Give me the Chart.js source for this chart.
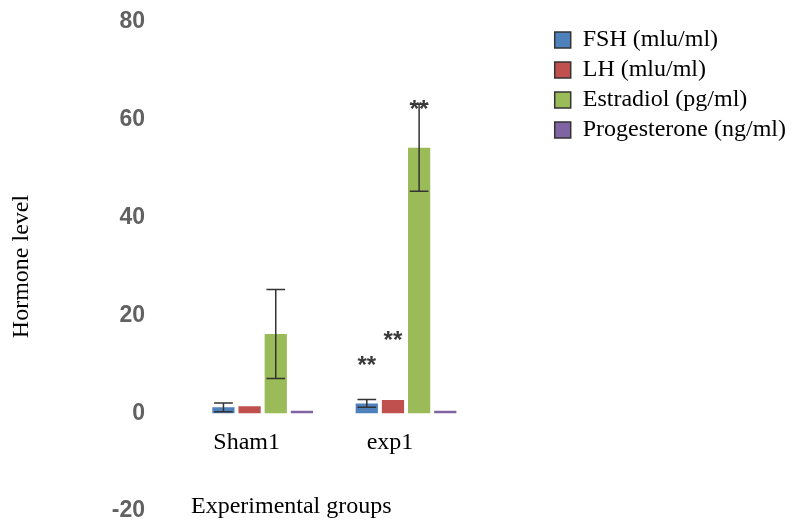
<!DOCTYPE html>
<html><head><meta charset="utf-8">
<script src="https://cdn.jsdelivr.net/npm/chart.js@4.4.0/dist/chart.umd.min.js"></script>
<style>html,body{margin:0;padding:0;background:#fff}#wrap{width:796px;height:523px}</style>
</head><body><div id="wrap"><canvas id="c" width="796" height="523"></canvas></div>
<script>
const groups = ['Sham1', 'exp1'];
const seriesNames = ['FSH (mlu/ml)', 'LH (mlu/ml)', 'Estradiol (pg/ml)', 'Progesterone (ng/ml)'];
const fsh = [1.2, 2.0];
const lh = [1.4, 2.7];
const estradiol = [16.2, 54.3];
const progesterone = [0.5, 0.5];
const fshErr = [0.9, 0.8];
const lhErr = [0, 0];
const estradiolErr = [9.1, 8.9];
const progesteroneErr = [0, 0];
const yMin = -20, yMax = 80, yStep = 20;
const starSeries = [0, 1, 2];
const starGroup = [1, 1, 1];
const starValue = [10.6, 15.7, 63];
const starText = ['**', '**', '**'];
const colors = ['#4f81bd', '#c0504d', '#9bbb59', '#8064a2'];

const values = [fsh, lh, estradiol, progesterone];
const errors = [fshErr, lhErr, estradiolErr, progesteroneErr];

const errorBars = {
  id: 'errorBars',
  afterDatasetsDraw(chart) {
    const ctx = chart.ctx, y = chart.scales.y;
    ctx.save();
    ctx.strokeStyle = '#333';
    ctx.lineWidth = 1.5;
    chart.data.datasets.forEach((ds, i) => {
      const meta = chart.getDatasetMeta(i);
      meta.data.forEach((bar, j) => {
        const e = errors[i][j];
        if (!e) return;
        const v = values[i][j];
        const yt = y.getPixelForValue(v + e), yb = y.getPixelForValue(v - e);
        const half = bar.width * 0.42;
        ctx.beginPath();
        ctx.moveTo(bar.x, yt); ctx.lineTo(bar.x, yb);
        ctx.moveTo(bar.x - half, yt); ctx.lineTo(bar.x + half, yt);
        ctx.moveTo(bar.x - half, yb); ctx.lineTo(bar.x + half, yb);
        ctx.stroke();
      });
    });
    ctx.fillStyle = '#3a3a3a';
    ctx.font = 'bold 24px "Liberation Sans"';
    ctx.textAlign = 'center';
    ctx.textBaseline = 'alphabetic';
    starSeries.forEach((s, k) => {
      const bar = chart.getDatasetMeta(s).data[starGroup[k]];
      const py = y.getPixelForValue(starValue[k]);
      ctx.fillText(starText[k], bar.x, py + 12);
    });
    ctx.restore();
  }
};

new Chart(document.getElementById('c'), {
  type: 'bar',
  data: {
    labels: groups,
    datasets: seriesNames.map((n, i) => ({
      label: n,
      data: values[i],
      backgroundColor: colors[i],
      borderWidth: 0,
      barPercentage: 0.85,
      categoryPercentage: 0.73
    }))
  },
  plugins: [errorBars],
  options: {
    responsive: false,
    animation: false,
    layout: { padding: { top: 22, bottom: 12, left: 0, right: 0 } },
    plugins: {
      tooltip: { enabled: false },
      legend: {
        position: 'right',
        align: 'start',
        maxWidth: 300,
        labels: {
          boxWidth: 16,
          boxHeight: 16,
          padding: 6,
          color: '#000',
          font: { family: '"Liberation Serif"', size: 24 },
          generateLabels(chart) {
            const items = Chart.defaults.plugins.legend.labels.generateLabels(chart);
            items.forEach(it => { it.strokeStyle = '#333'; it.lineWidth = 1.5; });
            return items;
          }
        }
      }
    },
    scales: {
      x: {
        position: { y: 0 },
        grid: { display: false, drawTicks: false },
        border: { display: false },
        ticks: {
          color: '#000',
          padding: 15,
          labelOffset: -16,
          font: { family: '"Liberation Serif"', size: 24 }
        },
        title: {
          display: true,
          text: 'Experimental groups',
          align: 'start',
          color: '#000',
          padding: { top: 20, bottom: 4 },
          font: { family: '"Liberation Serif"', size: 24 }
        },
        afterFit(s) { s.paddingLeft = 0; s.paddingRight = 0; }
      },
      y: {
        min: yMin,
        max: yMax,
        grid: { display: false, drawTicks: false },
        border: { display: false },
        ticks: {
          stepSize: yStep,
          padding: 46,
          color: '#616161',
          font: { family: '"Liberation Sans"', size: 23, weight: 'bold' }
        },
        title: {
          display: true,
          text: 'Hormone level',
          color: '#000',
          padding: { top: 7, bottom: 4 },
          font: { family: '"Liberation Serif"', size: 24 }
        },
        afterFit(s) { s.width = 191; s.paddingTop = 0; s.paddingBottom = 0; }
      },
      y2: {
        position: 'right',
        display: true,
        grid: { display: false, drawTicks: false },
        border: { display: false },
        ticks: { display: false },
        afterFit(s) { s.width = 71; s.paddingTop = 0; s.paddingBottom = 0; }
      }
    }
  }
});
</script>
</body></html>
